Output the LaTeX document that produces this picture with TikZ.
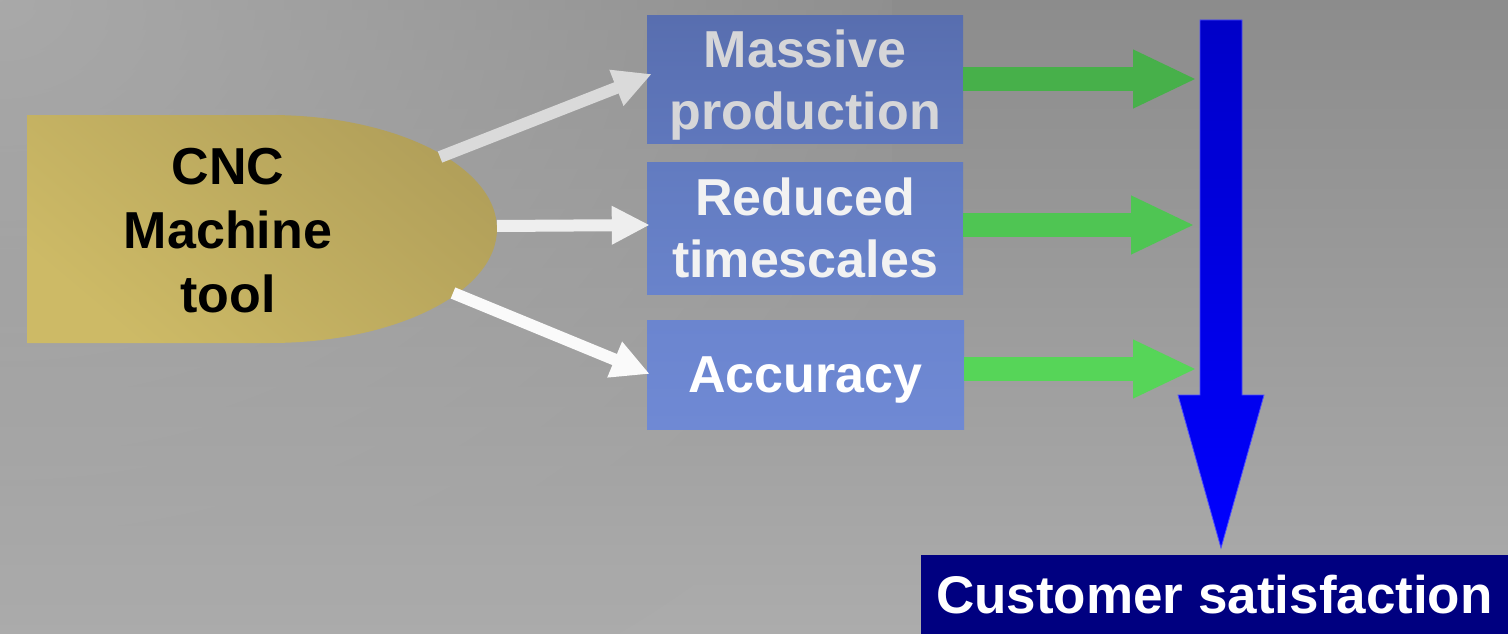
\documentclass[tikz,border=0pt]{standalone}
\usepackage{fontspec}
\setmainfont{Liberation Sans}
\usetikzlibrary{arrows.meta,fadings}
\definecolor{bgtop}{HTML}{8C8C8C}
\definecolor{bgmid}{HTML}{A8A8A8}
\definecolor{bgbot}{HTML}{ACACAC}
\definecolor{bglight}{HTML}{A9A9A9}
\definecolor{goldA}{HTML}{B2A05A}
\definecolor{goldB}{HTML}{CDBA66}
\definecolor{wA}{HTML}{DADADA}
\definecolor{wB}{HTML}{EEEEEE}
\definecolor{wC}{HTML}{FAFAFA}
\definecolor{gA}{HTML}{47B04A}
\definecolor{gB}{HTML}{4FC553}
\definecolor{gC}{HTML}{56D558}
\definecolor{bxAt}{HTML}{586EAF}
\definecolor{bxAb}{HTML}{5F77BC}
\definecolor{bxBt}{HTML}{627BC0}
\definecolor{bxBb}{HTML}{6983CB}
\definecolor{bxCt}{HTML}{6B85CF}
\definecolor{bxCb}{HTML}{6F89D4}
\definecolor{txA}{HTML}{D6D6D8}
\definecolor{txB}{HTML}{F2F2F2}
\definecolor{blueTop}{HTML}{0000C8}
\definecolor{blueBot}{HTML}{0000FF}
\definecolor{navy}{HTML}{000080}
\begin{tikzfadingfrompicture}[name=tlfade]
  \fill[transparent!100] (-2,-2) rectangle (2,2);
  \shade[inner color=transparent!0, outer color=transparent!100] (0,0) circle (1);
\end{tikzfadingfrompicture}
\tikzset{
  bigtext/.style={font=\fontsize{52}{62}\selectfont\bfseries, align=center, text depth=0pt, inner sep=0pt},
  effbox/.style={bigtext, minimum width=316pt, shading=axis, shading angle=0},
  whitearrow/.style={line width=12pt, -{Triangle[length=38pt,width=36pt]}},
  greenarrow/.style={line width=24pt, -{Triangle[length=64pt,width=54pt]}}
}
\begin{document}
\begin{tikzpicture}[x=1pt,y=-1pt]
\useasboundingbox (0,0) rectangle (1508,634);
\begin{scope}
\clip (0,0) rectangle (1508,634);
\shade[top color=bgtop, middle color=bgmid, bottom color=bgbot] (0,0) rectangle (1508,634);
\fill[bglight, path fading=tlfade] (-900,-700) rectangle (900,700);
\end{scope}

% CNC shape
\shade[top color=goldA, bottom color=goldB, shading angle=-40]
  (27,115) -- (270,115) .. controls (395.4,115) and (497,166) .. (497,229)
  .. controls (497,292) and (395.4,343) .. (270,343) -- (27,343) -- cycle;
\node[bigtext, text=black, font=\fontsize{52}{64}\selectfont\bfseries] (cnc) at (228,230) {CNC\\Machine\\tool};
\coordinate (c1) at (440,157);
\coordinate (c2) at (497,226);
\coordinate (c3) at (453,293);

% effect boxes
\node[effbox, top color=bxAt, bottom color=bxAb, minimum height=127pt, text=txA] (b1) at (805,79.5) {Massive\\production};
\node[effbox, top color=bxBt, bottom color=bxBb, minimum height=132pt, text=txB] (b2) at (805,228) {Reduced\\timescales};
\node[effbox, top color=bxCt, bottom color=bxCb, minimum height=109pt, minimum width=317pt, text=white] (b3) at (805.5,374.5) {Accuracy};

% white arrows
\draw[whitearrow, wA] (c1) -- ([xshift=5pt,yshift=5.5pt]b1.west);
\draw[whitearrow, wB] (c2) -- ([xshift=3pt,yshift=3pt]b2.west);
\draw[whitearrow, wC] (c3) -- ([xshift=3pt,yshift=0.5pt]b3.west);

% big blue arrow
\coordinate (btip) at (1221,548);
\shade[top color=blueTop, bottom color=blueBot, draw=blue!70!white, line width=0.8pt]
  (1200,20) -- (1242,20) -- (1242,395) -- (1264,395) -- (btip) -- (1178,395) -- (1200,395) -- cycle;

% green arrows
\coordinate (g1) at (1197,79);
\coordinate (g2) at (1195,225);
\coordinate (g3) at (1197,369);
\draw[greenarrow, gA] (b1.east |- g1) -- (g1);
\draw[greenarrow, gB] (b2.east |- g2) -- (g2);
\draw[greenarrow, gC] (b3.east |- g3) -- (g3);

% customer satisfaction
\node[bigtext, fill=navy, text=white, minimum width=587pt, minimum height=79pt,
      font=\fontsize{53}{62}\selectfont\bfseries] (cust) at (1214.5,594.5) {Customer satisfaction};
\end{tikzpicture}
\end{document}
